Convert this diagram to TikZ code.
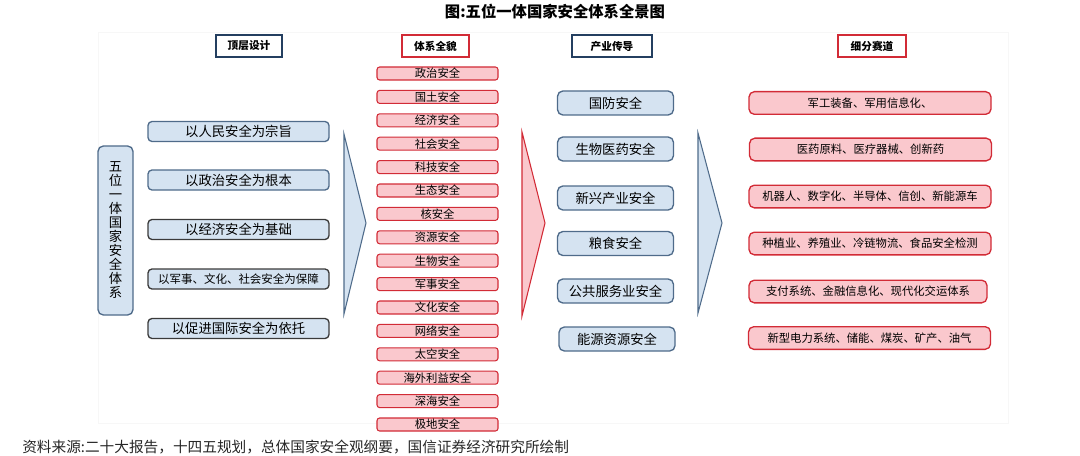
\documentclass[tikz,border=0pt]{standalone}
\usepackage{fontspec}
\setmainfont{Noto Sans CJK SC}
\usetikzlibrary{positioning}
\definecolor{bluefill}{HTML}{D5E3F1}
\definecolor{blueline}{HTML}{4F6B8A}
\definecolor{navyline}{HTML}{243F60}
\definecolor{pinkfill}{HTML}{FAC8CD}
\definecolor{redline}{HTML}{D22B36}
\definecolor{darkline}{HTML}{3A3A3A}
\newcommand{\setfs}[1]{\fontsize{#1}{#1}\selectfont}
\begin{document}
\begin{tikzpicture}[x=0.75pt,y=-0.75pt,
	head/.style={draw=navyline,line width=1.5pt,fill=white,inner sep=0pt,minimum height=16.5pt,font=\bfseries\setfs{8}},
	redhead/.style={head,draw=redline},
	goal/.style={draw=blueline,line width=1pt,fill=bluefill,rounded corners=3pt,inner sep=0pt,minimum width=135.75pt,minimum height=15pt,font=\setfs{10}},
	field/.style={draw=redline,line width=0.8pt,fill=pinkfill,rounded corners=2pt,inner sep=0pt,minimum width=90.75pt,minimum height=9.75pt,font=\setfs{8.5}},
	chain/.style={draw=blueline,line width=1pt,fill=bluefill,rounded corners=4pt,inner sep=0pt,minimum width=87pt,minimum height=18pt,font=\setfs{10}},
	track/.style={draw=redline,line width=1pt,fill=pinkfill,rounded corners=4pt,inner sep=0pt,minimum width=181.5pt,minimum height=17pt,font=\setfs{8.5}}]
	\useasboundingbox (0,0) rectangle (1080,456);
	% frame and title
	\draw[black!3] (98,32) rectangle (1008,423);
	\node[font=\bfseries\setfs{11.5}] (title) at (555,12) {图:五位一体国家安全体系全景图};
	% column heads
	\node[head,minimum width=50pt] (hTop) at (249,46) {顶层设计};
	\node[redhead,minimum width=50pt] (hSys) at (435.5,46) {体系全貌};
	\node[head,minimum width=60pt] (hInd) at (612,46) {产业传导};
	\node[redhead,minimum width=51pt] (hSeg) at (872,46.5) {细分赛道};
	% top design
	\node[draw=blueline,line width=1pt,fill=bluefill,rounded corners=4pt,inner sep=0pt,
		minimum width=26.25pt,minimum height=126.75pt,align=center,font=\fontsize{10}{10.5}\selectfont]
		(five) at (115.5,230.5) {五\\位\\一\\体\\国\\家\\安\\全\\体\\系};
	\node[goal] (g1) at (238.5,131.5) {以人民安全为宗旨};
	\node[goal] (g2) at (238.5,180) {以政治安全为根本};
	\node[goal,draw=darkline] (g3) at (238.5,229.5) {以经济安全为基础};
	\node[goal,draw=darkline,font=\setfs{8.6}] (g4) at (238.5,279) {以军事、文化、社会安全为保障};
	\node[goal,draw=darkline] (g5) at (238.5,328.5) {以促进国际安全为依托};
	% chevrons
	\draw[blueline,fill=bluefill,line width=0.8pt] (344,134) -- (366,223) -- (344,314) -- cycle;
	\draw[redline,fill=pinkfill,line width=0.8pt] (522,132) -- (545,223) -- (522,316) -- cycle;
	\draw[blueline,fill=bluefill,line width=0.8pt] (698,133) -- (722,223) -- (698,313) -- cycle;
	% full system
	\foreach \lbl [count=\i from 0] in {政治安全,国土安全,经济安全,社会安全,科技安全,生态安全,核安全,资源安全,生物安全,军事安全,文化安全,网络安全,太空安全,海外利益安全,深海安全,极地安全}
		\node[field] (f\i) at (437.5,73.5+23.4*\i) {\lbl};
	% industry
	\node[chain] (c1) at (615.5,103) {国防安全};
	\node[chain] (c2) at (615.5,149) {生物医药安全};
	\node[chain] (c3) at (615.5,198) {新兴产业安全};
	\node[chain] (c4) at (615.5,243.5) {粮食安全};
	\node[chain] (c5) at (615.5,291) {公共服务业安全};
	\node[chain] (c6) at (617,339) {能源资源安全};
	% segments
	\node[track] (t1) at (870,103) {军工装备、军用信息化、};
	\node[track] (t2) at (870.5,149.5) {医药原料、医疗器械、创新药};
	\node[track] (t3) at (870,196.5) {机器人、数字化、半导体、信创、新能源车};
	\node[track] (t4) at (870,243.5) {种植业、养殖业、冷链物流、食品安全检测};
	\node[track,minimum width=178.5pt] (t5) at (868,291.5) {支付系统、金融信息化、现代化交运体系};
	\node[track] (t6) at (869.5,338) {新型电力系统、储能、煤炭、矿产、油气};
	% source
	\node[anchor=west,inner sep=0pt,text=black!85,font=\setfs{11}] (src) at (22,447) {资料来源:二十大报告，十四五规划，总体国家安全观纲要，国信证券经济研究所绘制};
\end{tikzpicture}
\end{document}
